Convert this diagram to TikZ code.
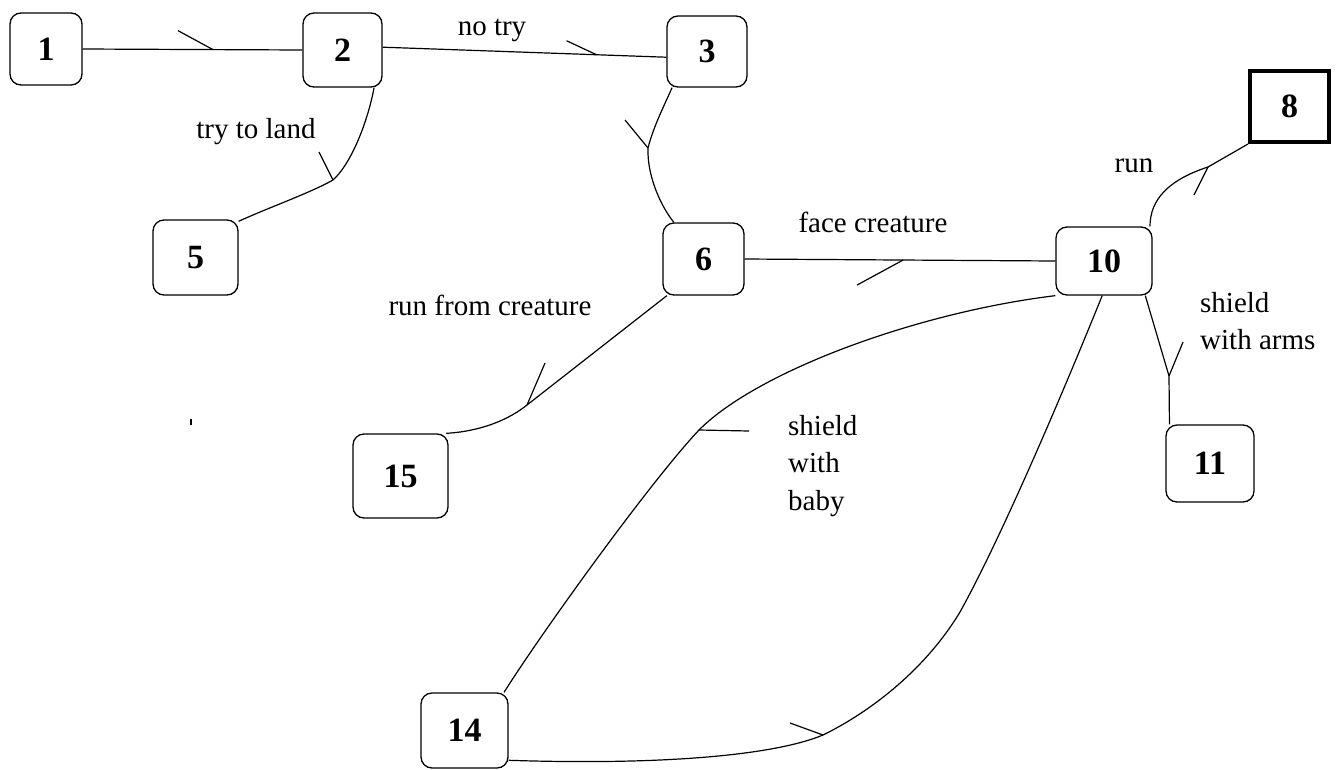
\documentclass[tikz,border=0pt]{standalone}
\usepackage{fontspec}
\setmainfont{Liberation Serif}

\begin{document}
\begin{tikzpicture}[x=1pt,y=-1pt,
    box/.style={draw,line width=1.3pt,rounded corners=11pt,inner sep=0pt,font=\fontsize{34}{40}\selectfont\bfseries},
    lbl/.style={inner sep=0pt,font=\fontsize{29}{37.5}\selectfont},
    link/.style={line width=1.2pt}]
    \useasboundingbox (0,0) rectangle (1338,769);

    \node[box,minimum width=72pt,minimum height=72pt] (n1) at (46,49) {1};
    \node[box,minimum width=79pt,minimum height=74pt] (n2) at (342.5,50) {2};
    \node[box,minimum width=80pt,minimum height=71pt] (n3) at (707,51.5) {3};
    \node[box,minimum width=85pt,minimum height=75pt] (n5) at (195.5,257.5) {5};
    \node[box,minimum width=81pt,minimum height=72pt] (n6) at (703.5,259) {6};
    \node[draw,line width=4pt,inner sep=0pt,minimum width=79pt,minimum height=71pt,font=\fontsize{34}{40}\selectfont\bfseries] (n8) at (1289.5,106.5) {8};
    \node[box,minimum width=96pt,minimum height=68pt] (n10) at (1104,261) {10};
    \node[box,minimum width=88pt,minimum height=77pt] (n11) at (1210,463.5) {11};
    \node[box,minimum width=95pt,minimum height=84pt] (n15) at (400.5,476) {15};
    \node[box,minimum width=87pt,minimum height=75pt] (n14) at (464.5,730.5) {14};

    \coordinate (k25) at (333,180);
    \coordinate (k36) at (648,148);
    \coordinate (k615) at (527,405);
    \coordinate (k108) at (1208,167);
    \coordinate (k1011) at (1169,376);
    \coordinate (k1014a) at (699,430);
    \coordinate (k1014b) at (823,735);

    \draw[link] (n1.east) -- coordinate[pos=0.593] (k12) (n2.west);
    \draw[link] (n2.4) -- coordinate[pos=0.754] (k23) (n3.188);
    \draw[link] (n2.-50) .. controls (367,125) and (350,165) .. (k25) .. controls (310,193) and (270,207) .. (n5.40);
    \draw[link] (n3.-134) .. controls (663,108) and (653,128) .. (k36) .. controls (647,175) and (660,205) .. (n6.129);
    \draw[link] (n6.-135) -- (k615) .. controls (502,425) and (470,432) .. (n15.43);
    \draw[link] (n6.east) -- coordinate[pos=0.51] (k610) (n10.west);
    \draw[link] (n10.37) .. controls (1150,200) and (1168,180) .. (k108) -- (n8.south west);
    \draw[link] (n10.-40) -- (k1011) -- (n11.136);
    \draw[link] (n10.south west) .. controls (920,312) and (759,370) .. (k1014a) .. controls (650,482) and (540,635) .. (n14.44);
    \draw[link] (n10.-93) .. controls (1060,400) and (1000,540) .. (960,612) .. controls (925,670) and (870,712) .. (k1014b) .. controls (770,757) and (650,765) .. (n14.-34);

    \draw[link] (k12) -- ++(-35,-19);
    \draw[link] (k23) -- ++(-30,-14);
    \draw[link] (k25) -- ++(-14,-28);
    \draw[link] (k36) -- ++(-23,-28);
    \draw[link] (k615) -- ++(18,-42);
    \draw[link] (k610) -- ++(-46,25);
    \draw[link] (k108) -- ++(-14,28);
    \draw[link] (k1011) -- ++(14,-34);
    \draw[link] (k1014a) -- ++(50,1);
    \draw[link] (k1014b) -- ++(-33,-12);

    \node[lbl,anchor=base] (t23) at (492,35) {no try};
    \node[lbl,anchor=base] (t25) at (256,138) {try to land};
    \node[lbl,anchor=base] (t615) at (490,315) {run from creature};
    \node[lbl,anchor=base] (t610) at (873,232) {face creature};
    \node[lbl,anchor=base] (t108) at (1134,172) {run};
    \node[lbl,anchor=north west,align=left] (t1011) at (1200,292) {shield\\with arms};
    \node[lbl,anchor=north west,align=left] (t1014) at (788,415) {shield\\with\\baby};

    \draw[line width=1.2pt] (191,419) -- (191,425);
\end{tikzpicture}
\end{document}
